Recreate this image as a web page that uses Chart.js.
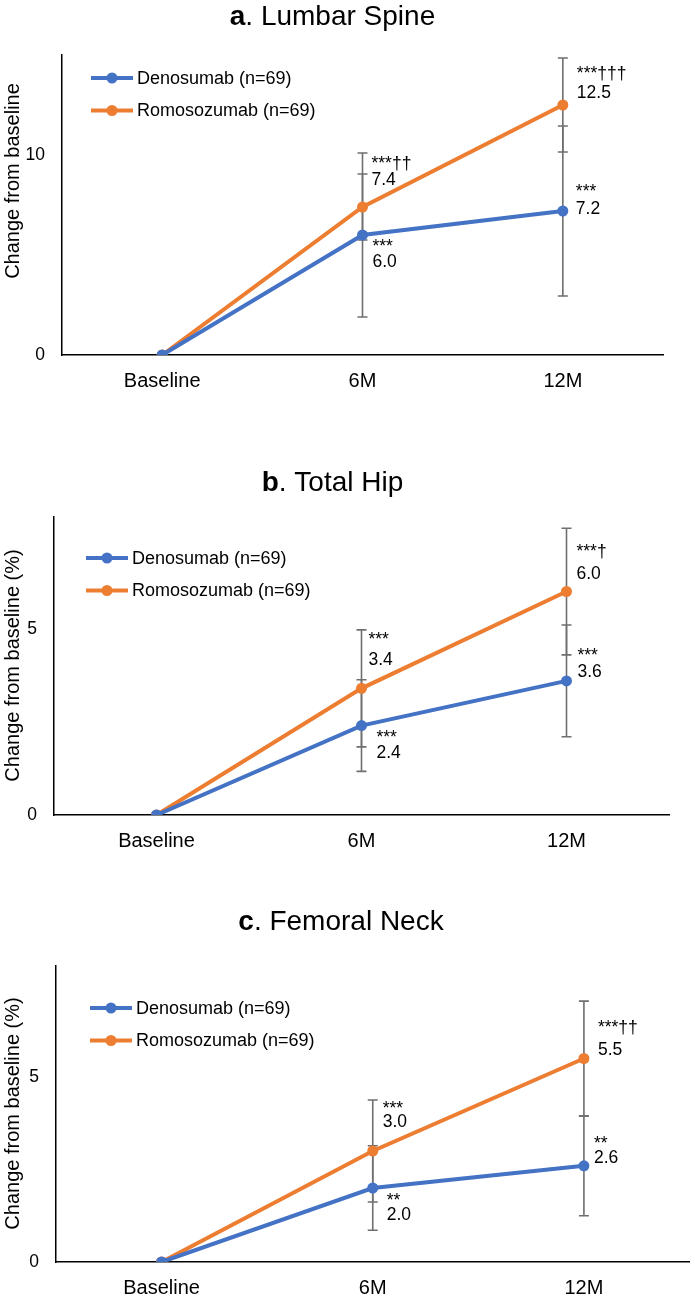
<!DOCTYPE html>
<html>
<head>
<meta charset="utf-8">
<title>BMD change from baseline — Denosumab vs Romosozumab</title>
<script src="https://cdn.jsdelivr.net/npm/chart.js@4/dist/chart.umd.min.js"></script>
<style>
  html, body { margin: 0; padding: 0; background: #fff; }
  #wrap { position: relative; width: 695px; height: 1300px; overflow: hidden; }
  .panel { position: absolute; left: 0; width: 695px; }
  .panel canvas { display: block; }
</style>
</head>
<body>
<div id="wrap">
  <div class="panel" style="top:0px;height:430px"><canvas id="chartA" width="695" height="430"></canvas></div>
  <div class="panel" style="top:430px;height:440px"><canvas id="chartB" width="695" height="440"></canvas></div>
  <div class="panel" style="top:870px;height:430px"><canvas id="chartC" width="695" height="430"></canvas></div>
</div>
<script>
'use strict';

// ---- Shared categories / series ----
const CATEGORIES = ['Baseline', '6M', '12M'];
const SERIES     = ['Denosumab (n=69)', 'Romosozumab (n=69)'];

// ---- a. Lumbar Spine ----
const LS_DENO      = [0, 6.0, 7.2];
const LS_ROMO      = [0, 7.4, 12.5];
const LS_DENO_ERR  = [null, 4.1, 4.25];
const LS_ROMO_ERR  = [null, 1.65, 2.35];
const LS_DENO_SIG  = ['', '***', '***'];
const LS_ROMO_SIG  = ['', '***††', '***†††'];
const LS_TICKS     = [0, 10];
const LS_MAX       = 15;

// ---- b. Total Hip ----
const TH_DENO      = [0, 2.4, 3.6];
const TH_ROMO      = [0, 3.4, 6.0];
const TH_DENO_ERR  = [null, 1.23, 1.5];
const TH_ROMO_ERR  = [null, 1.57, 1.7];
const TH_DENO_SIG  = ['', '***', '***'];
const TH_ROMO_SIG  = ['', '***', '***†'];
const TH_TICKS     = [0, 5];
const TH_MAX       = 8;

// ---- c. Femoral Neck ----
const FN_DENO      = [0, 2.0, 2.6];
const FN_ROMO      = [0, 3.0, 5.5];
const FN_DENO_ERR  = [null, 1.14, 1.35];
const FN_ROMO_ERR  = [null, 1.38, 1.55];
const FN_DENO_SIG  = ['', '**', '**'];
const FN_ROMO_SIG  = ['', '***', '***††'];
const FN_TICKS     = [0, 5];
const FN_MAX       = 8;

// ---- Styling ----
const COLORS = {
  deno: '#4472C4',
  romo: '#ED7D31',
  err:  '#6f6f6f',
  axis: '#000000',
  text: '#000000',
};
const FONT = "'Liberation Sans', Arial, Helvetica, sans-serif";

// Extras drawn on top of the Chart.js scales: error bars, labels, title, legend
const panelExtras = {
  id: 'panelExtras',

  beforeDatasetsDraw(chart, args, o) {
    const { ctx, scales: { x, y } } = chart;
    ctx.save();
    ctx.strokeStyle = COLORS.err;
    ctx.lineWidth = 1.6;
    chart.data.datasets.forEach((ds, i) => {
      ds.data.forEach((v, j) => {
        const e = o.errors[i][j];
        if (e == null) return;
        const px = x.getPixelForValue(j);
        const yt = y.getPixelForValue(v + e);
        const yb = y.getPixelForValue(v - e);
        ctx.beginPath();
        ctx.moveTo(px, yt); ctx.lineTo(px, yb);
        ctx.moveTo(px - 5, yt); ctx.lineTo(px + 5, yt);
        ctx.moveTo(px - 5, yb); ctx.lineTo(px + 5, yb);
        ctx.stroke();
      });
    });
    ctx.restore();
  },

  afterDatasetsDraw(chart, args, o) {
    const { ctx, scales: { x, y } } = chart;
    ctx.save();
    ctx.font = `17.5px ${FONT}`;
    ctx.fillStyle = COLORS.text;
    ctx.textAlign = 'left';
    ctx.textBaseline = 'alphabetic';
    chart.data.datasets.forEach((ds, i) => {
      ds.data.forEach((v, j) => {
        const pos = o.labelPos[i][j];
        if (!pos) return;
        const px = x.getPixelForValue(j);
        const py = y.getPixelForValue(v);
        ctx.fillText(o.sig[i][j], px + pos[0], py + pos[1]);
        ctx.fillText(v.toFixed(1), px + pos[0], py + pos[2]);
      });
    });
    ctx.restore();
  },

  afterDraw(chart, args, o) {
    const { ctx, chartArea } = chart;
    ctx.save();
    ctx.fillStyle = COLORS.text;

    // panel title: bold letter + plain name
    ctx.textBaseline = 'alphabetic';
    ctx.textAlign = 'left';
    ctx.font = `bold 28px ${FONT}`;
    const w1 = ctx.measureText(o.title[0]).width;
    ctx.font = `28px ${FONT}`;
    const w2 = ctx.measureText(o.title[1]).width;
    const tx = o.titleX - (w1 + w2) / 2;
    ctx.font = `bold 28px ${FONT}`;
    ctx.fillText(o.title[0], tx, o.titleY);
    ctx.font = `28px ${FONT}`;
    ctx.fillText(o.title[1], tx + w1, o.titleY);

    // y axis title
    ctx.save();
    ctx.translate(19, o.yTitleY);
    ctx.rotate(-Math.PI / 2);
    ctx.textAlign = 'center';
    ctx.font = `20px ${FONT}`;
    ctx.fillText(o.yTitle, 0, 0);
    ctx.restore();

    // legend inside plot area
    const lx = chartArea.left + o.legend.dx;
    chart.data.datasets.forEach((ds, i) => {
      const ly = chartArea.top + o.legend.dy + i * 32.5;
      ctx.strokeStyle = ds.borderColor;
      ctx.lineWidth = 4;
      ctx.beginPath();
      ctx.moveTo(lx, ly); ctx.lineTo(lx + 42, ly);
      ctx.stroke();
      ctx.fillStyle = ds.borderColor;
      ctx.beginPath();
      ctx.arc(lx + 21, ly, 5.5, 0, Math.PI * 2);
      ctx.fill();
      ctx.fillStyle = COLORS.text;
      ctx.font = `18px ${FONT}`;
      ctx.textBaseline = 'middle';
      ctx.fillText(ds.label, lx + 46, ly + 1);
    });
    ctx.restore();
  }
};

function lineSet(label, data, color) {
  return {
    label,
    data,
    borderColor: color,
    backgroundColor: color,
    borderWidth: 4,
    tension: 0,
    pointRadius: 5.5,
    pointBorderWidth: 0,
    pointBackgroundColor: color,
    fill: false,
  };
}

function renderPanel(p) {
  const ctx = document.getElementById(p.id);
  return new Chart(ctx, {
    type: 'line',
    data: {
      labels: CATEGORIES,
      datasets: [
        lineSet(SERIES[0], p.deno, COLORS.deno),
        lineSet(SERIES[1], p.romo, COLORS.romo),
      ],
    },
    options: {
      responsive: false,
      animation: false,
      layout: { padding: { left: 0, top: p.area.top, right: 695 - p.area.right, bottom: p.height - p.area.bottom - 36 } },
      plugins: {
        legend: { display: false },
        title: { display: false },
        tooltip: { enabled: false },
        panelExtras: {
          errors: [p.denoErr, p.romoErr],
          sig: [p.denoSig, p.romoSig],
          labelPos: p.labelPos,
          title: p.title,
          titleX: p.titleX,
          titleY: p.titleY,
          yTitle: p.yTitle,
          yTitleY: p.yTitleY,
          legend: p.legend,
        },
      },
      scales: {
        x: {
          offset: true,
          grid: { display: false, drawTicks: false },
          border: { display: true, color: COLORS.axis, width: 1.5 },
          ticks: { color: COLORS.text, font: { family: FONT, size: 20 }, padding: 14, maxRotation: 0, autoSkip: false },
          afterFit: s => { s.height = 36; },
        },
        y: {
          min: 0,
          max: p.yMax,
          grid: { display: false, drawTicks: false },
          border: { display: true, color: COLORS.axis, width: 1.5 },
          ticks: { color: COLORS.text, font: { family: FONT, size: 17.5 }, padding: 17 },
          afterBuildTicks: s => { s.ticks = p.yTicks.map(v => ({ value: v })); },
          afterFit: s => { s.width = p.area.left; },
        },
      },
    },
    plugins: [panelExtras],
  });
}

// label offsets: [dx, star baseline dy, value baseline dy] relative to each point
renderPanel({
  id: 'chartA', height: 430,
  area: { left: 62, right: 663, top: 55, bottom: 355 },
  deno: LS_DENO, romo: LS_ROMO, denoErr: LS_DENO_ERR, romoErr: LS_ROMO_ERR,
  denoSig: LS_DENO_SIG, romoSig: LS_ROMO_SIG, yTicks: LS_TICKS, yMax: LS_MAX,
  title: ['a', '. Lumbar Spine'], titleX: 332.5, titleY: 25,
  yTitle: 'Change from baseline', yTitleY: 181,
  legend: { dx: 29, dy: 23 },
  labelPos: [
    [null, [10, 17, 32], [13, -14, 3]],
    [null, [9, -38, -22], [14, -26, -7]],
  ],
});

renderPanel({
  id: 'chartB', height: 440,
  area: { left: 54, right: 669, top: 87, bottom: 385 },
  deno: TH_DENO, romo: TH_ROMO, denoErr: TH_DENO_ERR, romoErr: TH_ROMO_ERR,
  denoSig: TH_DENO_SIG, romoSig: TH_ROMO_SIG, yTicks: TH_TICKS, yMax: TH_MAX,
  title: ['b', '. Total Hip'], titleX: 332.5, titleY: 61,
  yTitle: 'Change from baseline (%)', yTitleY: 235.5,
  legend: { dx: 32, dy: 41 },
  labelPos: [
    [null, [15, 17, 32], [11, -20, -4]],
    [null, [7, -43, -23], [10, -35, -13]],
  ],
});

renderPanel({
  id: 'chartC', height: 430,
  area: { left: 56, right: 694, top: 96, bottom: 392 },
  deno: FN_DENO, romo: FN_ROMO, denoErr: FN_DENO_ERR, romoErr: FN_ROMO_ERR,
  denoSig: FN_DENO_SIG, romoSig: FN_ROMO_SIG, yTicks: FN_TICKS, yMax: FN_MAX,
  title: ['c', '. Femoral Neck'], titleX: 341, titleY: 60,
  yTitle: 'Change from baseline (%)', yTitleY: 243.5,
  legend: { dx: 34, dy: 42 },
  labelPos: [
    [null, [14, 18, 32], [10, -17, -3]],
    [null, [10, -37, -24], [14, -26, -4]],
  ],
});
</script>
</body>
</html>
